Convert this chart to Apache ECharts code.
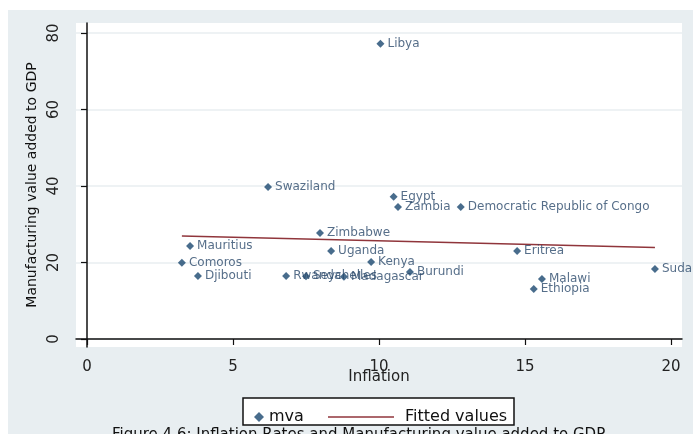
<!DOCTYPE html>
<html>
<head>
<meta charset="utf-8">
<script src="https://cdn.jsdelivr.net/npm/echarts@6/dist/echarts.min.js"></script>
<style>
  html, body { margin: 0; padding: 0; background: #ffffff; }
  #chart { width: 693px; height: 434px; }
</style>
</head>
<body>
<div id="chart"></div>
<script>
// Country observations: inflation (%) against manufacturing value added (% of GDP)
const countries = ['Libya', 'Swaziland', 'Egypt', 'Zambia', 'Democratic Republic of Congo',
  'Zimbabwe', 'Mauritius', 'Uganda', 'Comoros', 'Kenya', 'Djibouti', 'Rwanda', 'Seychelles',
  'Madagascar', 'Burundi', 'Eritrea', 'Malawi', 'Ethiopia', 'Sudan'];
const inflation = [10.05, 6.2, 10.5, 10.65, 12.8, 7.98, 3.53, 8.36, 3.25, 9.73, 3.8, 6.82, 7.5,
  8.8, 11.06, 14.73, 15.58, 15.3, 19.45];
const mva = [77.2, 39.7, 37.2, 34.5, 34.5, 27.7, 24.3, 23.0, 19.9, 20.1, 16.5, 16.5, 16.4,
  16.3, 17.5, 23.0, 15.7, 13.1, 18.3];

// Linear fit endpoints
const fittedX = [3.25, 19.45];
const fittedY = [26.9, 23.9];

const xTicks = [0, 5, 10, 15, 20];
const yTicks = [0, 20, 40, 60, 80];

const navy = '#1a476f';
const maroon = '#90353b';
const regionGray = '#e8eef1';
const font = 'DejaVu Sans';

const chart = echarts.init(document.getElementById('chart'), null, { renderer: 'canvas' });

chart.setOption({
  animation: false,
  backgroundColor: '#ffffff',
  textStyle: { fontFamily: font },
  graphic: [
    { type: 'rect', z: -10, shape: { x: 8, y: 10, width: 685, height: 424 },
      style: { fill: regionGray } },
    { type: 'rect', z: 5, shape: { x: 243, y: 398, width: 271, height: 27 },
      style: { fill: '#ffffff', stroke: '#111111', lineWidth: 1.5 } },
    { type: 'text', z: 5, left: 112, top: 428,
      style: { text: 'Figure 4.6: Inflation Rates and Manufacturing value added to GDP',
        font: '15px "DejaVu Sans"', fill: '#111111' } }
  ],
  grid: {
    left: 76, right: 11, top: 23, bottom: 87,
    show: true, backgroundColor: '#ffffff', borderWidth: 0
  },
  xAxis: {
    type: 'value', min: -0.377, max: 20.377,
    axisLine: { show: true, lineStyle: { color: '#111111', width: 1.5 } },
    axisTick: { show: true, customValues: xTicks, length: 6, lineStyle: { color: '#111111', width: 1.2 } },
    axisLabel: { customValues: xTicks, fontFamily: font, fontSize: 15, color: '#222222', margin: 13 },
    splitLine: { show: false },
    name: 'Inflation', nameLocation: 'middle', nameGap: 23, nameMoveOverlap: false,
    nameTextStyle: { fontFamily: font, fontSize: 15, color: '#222222' }
  },
  yAxis: {
    type: 'value', min: -2.09, max: 82.6,
    axisLine: { show: true, lineStyle: { color: '#111111', width: 1.5 } },
    axisTick: { show: true, customValues: yTicks, length: 6, lineStyle: { color: '#111111', width: 1.2 } },
    axisLabel: { customValues: yTicks, rotate: 90, fontFamily: font, fontSize: 15, color: '#222222', margin: 14 },
    splitLine: { show: true, lineStyle: { color: regionGray, width: 1.5 } },
    name: 'Manufacturing value added to GDP', nameLocation: 'middle', nameGap: 36,
    nameTextStyle: { fontFamily: font, fontSize: 14, color: '#111111' }
  },
  legend: [
    {
      data: ['mva'], left: 249, top: 404, itemWidth: 10, itemHeight: 10,
      textStyle: { fontFamily: font, fontSize: 16, color: '#111111' }, z: 6
    },
    {
      data: [{ name: 'Fitted values', icon: 'rect' }], left: 323, top: 404,
      itemWidth: 66, itemHeight: 1.5,
      textStyle: { fontFamily: font, fontSize: 16, color: '#111111', padding: [0, 0, 0, 6] }, z: 6
    }
  ],
  series: [
    {
      name: 'mva', type: 'scatter', symbol: 'diamond', symbolSize: 8,
      itemStyle: { color: navy },
      data: countries.map((c, i) => ({ name: c, value: [inflation[i], mva[i]] })),
      label: {
        show: true, position: 'right', distance: 3,
        formatter: p => p.name,
        fontFamily: font, fontSize: 12, color: '#2c4a6b'
      },
      z: 3
    },
    {
      name: 'Fitted values', type: 'line', symbol: 'none',
      itemStyle: { color: maroon },
      lineStyle: { color: maroon, width: 1.5 },
      data: fittedX.map((x, i) => [x, fittedY[i]]),
      z: 2
    }
  ]
});
</script>
</body>
</html>
